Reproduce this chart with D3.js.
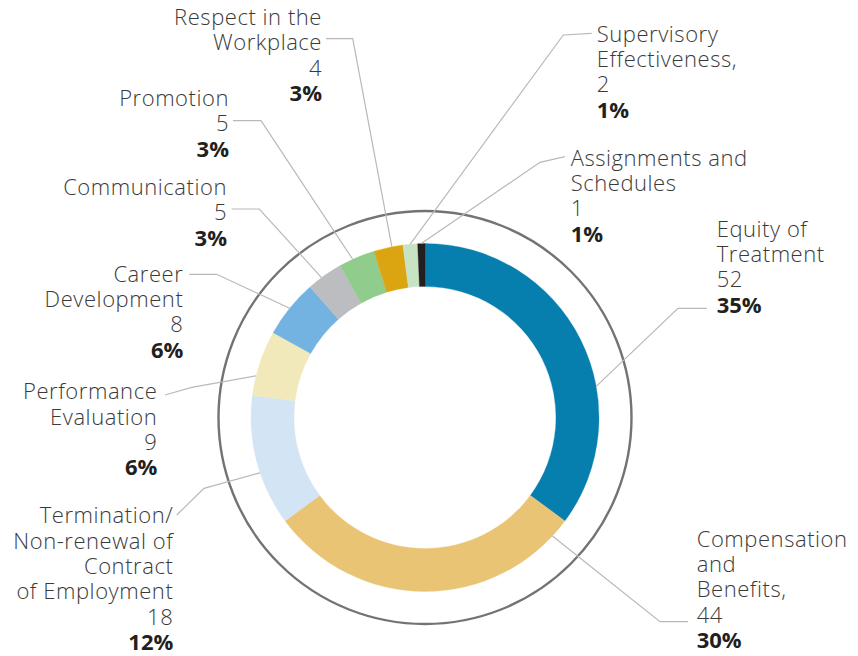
<!DOCTYPE html>
<html>
<head>
<meta charset="utf-8">
<script src="https://cdn.jsdelivr.net/npm/d3@7"></script>
<style>
  html, body { margin: 0; padding: 0; background: #fff; }
  svg { display: block; }
  .lbl { font-family: "Open Sans", sans-serif; font-size: 22px; font-weight: 300; fill: #3a3a3a; letter-spacing: 0.55px; }
  .pct { font-weight: 700; fill: #231f20; letter-spacing: 0; }
</style>
</head>
<body>
<svg id="chart" width="858" height="656"></svg>
<script>
// Cases by issue, clockwise from 12 o'clock
const categories = [
  "Equity of Treatment",
  "Compensation and Benefits",
  "Termination/Non-renewal of Contract of Employment",
  "Performance Evaluation",
  "Career Development",
  "Communication",
  "Promotion",
  "Respect in the Workplace",
  "Supervisory Effectiveness",
  "Assignments and Schedules"
];
const counts = [52, 44, 18, 9, 8, 5, 5, 4, 2, 1];
const percentLabels = ["35%", "30%", "12%", "6%", "6%", "3%", "3%", "3%", "1%", "1%"];
const countLabels = ["52", "44", "18", "9", "8", "5", "5", "4", "2", "1"];
const nameLines = [
  ["Equity of", "Treatment"],
  ["Compensation", "and", "Benefits,"],
  ["Termination/", "Non-renewal of", "Contract", "of Employment"],
  ["Performance", "Evaluation"],
  ["Career", "Development"],
  ["Communication"],
  ["Promotion"],
  ["Respect in the", "Workplace"],
  ["Supervisory", "Effectiveness,"],
  ["Assignments and", "Schedules"]
];
const colors = ["#067fae", "#e9c474", "#d3e5f4", "#f1e9b9", "#72b3e2",
                "#bcbdc0", "#90cc8b", "#dba511", "#c8e3c4", "#231f20"];

// label placement: first baseline, anchor, leader elbow, and where along the slice the leader lands
const labelLayout = [
  { x: 716.7, y: 236.7, anchor: "start", lead: [[706.7, 308.3], [678, 308.3]], at: 0.63 },
  { x: 696.7, y: 546.7, anchor: "start", lead: [[688, 621.7], [660, 621.7]], at: 0.06 },
  { x: 173.3, y: 523.3, anchor: "end",   lead: [[176.7, 515], [204, 488.3]], at: 0.41 },
  { x: 157.3, y: 399.3, anchor: "end",   lead: [[165, 395], [191.7, 387.3]], at: 0.3 },
  { x: 183.3, y: 281.7, anchor: "end",   lead: [[189.3, 274.3], [216.7, 274.3]], at: 0.5 },
  { x: 227,   y: 195,   anchor: "end",   lead: [[231.7, 209], [259.3, 209]], at: 0.4 },
  { x: 229,   y: 106,   anchor: "end",   lead: [[233, 120.7], [261, 120.7]], at: 0.38 },
  { x: 322,   y: 25,    anchor: "end",   lead: [[326, 38.7], [352.7, 38.7]], at: 0.62 },
  { x: 596.7, y: 41.7,  anchor: "start", lead: [[591.7, 33.3], [563.3, 35]], at: 0.5 },
  { x: 570.7, y: 165.7, anchor: "start", lead: [[565, 156.7], [540, 162.3]], at: 0.5 }
];

const svg = d3.select("#chart");
const cx = 425, cy = 417.5;
const outerR = 174, innerR = 131, ringR = 206.5;
const lineH = 25.3;

const pie = d3.pie().sort(null).value(d => d)(counts);
const arc = d3.arc().innerRadius(innerR).outerRadius(outerR);

const g = svg.append("g").attr("transform", `translate(${cx},${cy})`);

// outer guide ring
g.append("circle")
  .attr("r", ringR)
  .attr("fill", "none")
  .attr("stroke", "#737373")
  .attr("stroke-width", 2.4);

// leader lines
const leaders = svg.append("g")
  .attr("fill", "none")
  .attr("stroke", "#b9b9b9")
  .attr("stroke-width", 1.2);

pie.forEach((p, i) => {
  const L = labelLayout[i];
  const a = p.startAngle + (p.endAngle - p.startAngle) * L.at;
  const end = [cx + outerR * Math.sin(a), cy - outerR * Math.cos(a)];
  leaders.append("path")
    .attr("d", d3.line()([L.lead[0], L.lead[1], end]));
});

// donut slices
g.selectAll("path.slice")
  .data(pie)
  .join("path")
  .attr("class", "slice")
  .attr("d", arc)
  .attr("fill", (d, i) => colors[i])
  .attr("stroke", (d, i) => colors[i])
  .attr("stroke-width", 0.3);

// labels: name lines, count, then bold share
pie.forEach((p, i) => {
  const L = labelLayout[i];
  const lines = nameLines[i].concat([countLabels[i]]);
  const t = svg.append("text")
    .attr("class", "lbl")
    .attr("text-anchor", L.anchor);
  lines.forEach((s, k) => {
    t.append("tspan").attr("x", L.x).attr("y", L.y + k * lineH).text(s);
  });
  t.append("tspan")
    .attr("class", "pct")
    .attr("x", L.x)
    .attr("y", L.y + lines.length * lineH)
    .text(percentLabels[i]);
});
</script>
</body>
</html>
